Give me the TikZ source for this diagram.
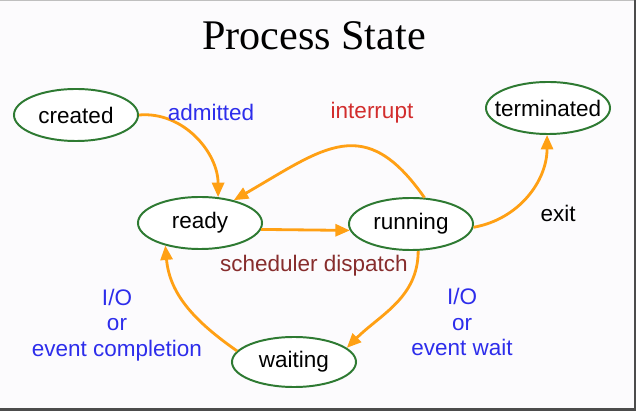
\documentclass[tikz,border=0pt]{standalone}
\usepackage{fontspec}
\setmainfont{Liberation Serif}
\setsansfont{Liberation Sans}
\usetikzlibrary{arrows.meta,positioning,shapes.geometric}
\definecolor{stategreen}{RGB}{46,122,50}
\definecolor{arroworange}{RGB}{255,160,20}
\definecolor{labelblue}{RGB}{45,45,235}
\definecolor{labelred}{RGB}{210,45,45}
\definecolor{labelbrown}{RGB}{135,45,45}
\definecolor{paper}{RGB}{252,251,253}

\begin{document}
\begin{tikzpicture}[x=0.025cm,y=-0.025cm,
  every node/.style={font=\sffamily\fontsize{16}{18}\selectfont},
  state/.style={draw=stategreen,line width=1.4pt,ellipse,fill=white,inner sep=0pt,minimum width=3.1cm,minimum height=1.3cm},
  trans/.style={draw=arroworange,line width=2pt,-{Triangle[length=0.36cm,width=0.3cm]}}]
  % frame
  \fill[paper] (0,0) rectangle (636,411);
  \useasboundingbox (0,0) rectangle (636,411);
  \fill[black!25] (0,0) rectangle (636,1.5);
  \fill[black!70] (633.5,0) rectangle (636,411);
  \fill[black!70] (0,408) rectangle (636,411);
  \node[font=\rmfamily\fontsize{30}{34}\selectfont] (title) at (314,36) {Process State};
  % states
  \node[state] (created) at (76,115) {created};
  \node[state] (ready) at (200,223) {ready};
  \node[state] (running) at (411,224) {running};
  \node[state,inner xsep=-0.3cm] (terminated) at (548,108) {terminated};
  \node[state,minimum height=1.25cm] (waiting) at (294,362) {waiting};
  % transitions
  \draw[trans] (created.east) to[out=5,in=90] (ready.55);
  \draw[trans] (running.63) to[out=125,in=30,looseness=1.4] (ready.34);
  \draw[trans] (ready.-6) -- (running.186);
  \draw[trans] (running.-3) to[out=10,in=-90] (terminated.268);
  \draw[trans] (running.-75) to[out=-90,in=45] (waiting.15);
  \draw[trans] (waiting.169) to[out=145,in=-85] (ready.213);
  % labels
  \node[text=labelblue] (admitted) at (211,112) {admitted};
  \node[text=labelred] (interrupt) at (372,113) {interrupt};
  \node (exit) at (558,213) {exit};
  \node[text=labelbrown] (dispatch) at (314,266) {scheduler dispatch};
  \node[text=labelblue,align=center] (completion) at (117,325) {I/O\\or\\event completion};
  \node[text=labelblue,align=center] (wait) at (462,322) {I/O\\or\\event wait};
\end{tikzpicture}
\end{document}
